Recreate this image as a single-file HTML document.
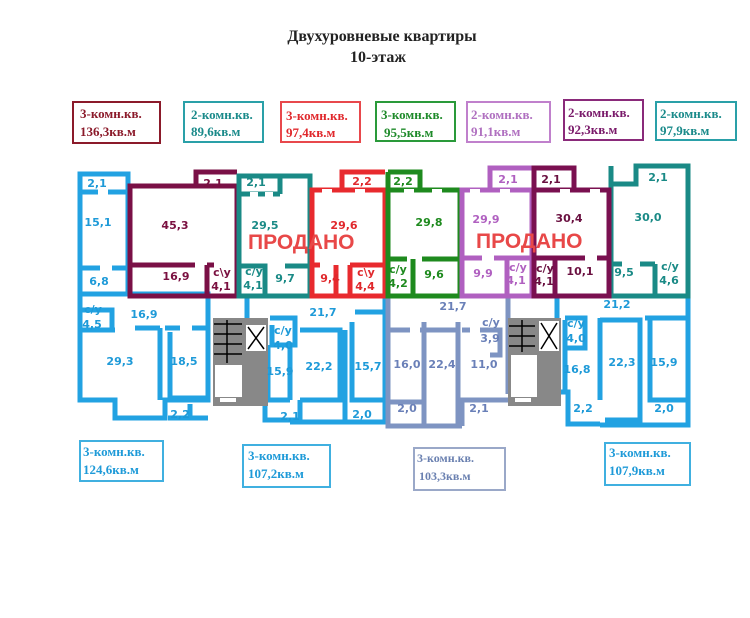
<!DOCTYPE html>
<html><head><meta charset="utf-8"><style>
body{margin:0;background:#fff;}
svg{display:block}
.t{font-family:"Liberation Serif","DejaVu Serif",serif;font-weight:bold}
.r{font-family:"DejaVu Sans","Liberation Sans",sans-serif;font-weight:bold;font-size:11px;text-anchor:middle}
</style></head><body>
<svg width="750" height="618" viewBox="0 0 750 618" xmlns="http://www.w3.org/2000/svg">
<rect width="750" height="618" fill="#fff"/>
<text class="t" x="382" y="41" font-size="16" text-anchor="middle" fill="#222">Двухуровневые квартиры</text>
<text class="t" x="378" y="62" font-size="16" text-anchor="middle" fill="#222">10-этаж</text>

<g fill="none" stroke-width="2">
<rect x="73" y="102" width="87" height="41" stroke="#8b1a2a"/>
<rect x="184" y="102" width="79" height="40" stroke="#2aa0a8"/>
<rect x="281" y="102" width="79" height="40" stroke="#e8484c"/>
<rect x="376" y="102" width="79" height="39" stroke="#2a9a3a"/>
<rect x="467" y="102" width="83" height="40" stroke="#c080cc"/>
<rect x="564" y="100" width="79" height="40" stroke="#8a2a7a"/>
<rect x="656" y="102" width="80" height="38" stroke="#2aa0a8"/>
</g>
<g class="t" font-size="13">
<text x="80" y="118" fill="#8b1a2a">3-комн.кв.</text><text x="80" y="136" fill="#8b1a2a">136,3кв.м</text>
<text x="191" y="119" fill="#1a8a8a">2-комн.кв.</text><text x="191" y="136" fill="#1a8a8a">89,6кв.м</text>
<text x="286" y="120" fill="#e0282c">3-комн.кв.</text><text x="286" y="137" fill="#e0282c">97,4кв.м</text>
<text x="381" y="119" fill="#1e8a2a">3-комн.кв.</text><text x="384" y="137" fill="#1e8a2a">95,5кв.м</text>
<text x="471" y="119" fill="#b070c0">2-комн.кв.</text><text x="471" y="136" fill="#b070c0">91,1кв.м</text>
<text x="568" y="117" fill="#7a1a6a">2-комн.кв.</text><text x="568" y="134" fill="#7a1a6a">92,3кв.м</text>
<text x="660" y="118" fill="#1a8a8a">2-комн.кв.</text><text x="660" y="135" fill="#1a8a8a">97,9кв.м</text>
</g>

<g fill="none" stroke-width="2">
<rect x="80" y="441" width="83" height="40" stroke="#40b0e0"/>
<rect x="243" y="445" width="87" height="42" stroke="#40b0e0"/>
<rect x="414" y="448" width="91" height="42" stroke="#9aa8c8"/>
<rect x="605" y="443" width="85" height="42" stroke="#40b0e0"/>
</g>
<g class="t" font-size="13">
<text x="83" y="456" fill="#1e9ad8">3-комн.кв.</text><text x="83" y="474" fill="#1e9ad8">124,6кв.м</text>
<text x="248" y="460" fill="#1e9ad8">3-комн.кв.</text><text x="248" y="478" fill="#1e9ad8">107,2кв.м</text>
<text x="417" y="462" fill="#6a80b0" font-size="12">3-комн.кв.</text><text x="419" y="480" fill="#6a80b0" font-size="12">103,3кв.м</text>
<text x="609" y="457" fill="#1e9ad8">3-комн.кв.</text><text x="609" y="475" fill="#1e9ad8">107,9кв.м</text>
</g>

<g fill="none" stroke-width="5">
<g stroke="#22a2e2">
<rect x="80" y="174" width="48" height="120"/>
<path d="M80 172 V400 H115 V418 H165 V400 H208 V294 H128"/>
<path d="M80 192 H98 M108 192 H128"/>
<path d="M80 268 H100 M112 268 H128"/>
<path d="M80 330 H115 M80 310 H112 V330 M135 328 H160 M160 328 V400 M165 328 H180 M192 328 H208 M170 332 V400"/>
<path d="M168 398 H208 M190 404 V420 M168 418 H208"/>
<path d="M247 296 H385 V422 H290 M247 296 V318"/>
<path d="M270 318 H295 V345 H272 V325 M290 345 V400 M265 400 H290 M265 400 V420 H300 V400 M300 400 H345 M300 330 H340 V400 M345 400 V422 M345 330 V400 M355 312 H385 M352 322 V400 H385"/>
<path d="M268 345 V400"/>
<path d="M557 296 H688 V425 H600 M557 296 V318"/>
<path d="M565 318 H585 V348 H565 V320 M565 348 V392 H568 M545 392 H568 V424 H600 M600 320 H640 V420 H605 M645 318 H688 M650 320 V400 H688 M600 318 V400"/>
</g>
<g stroke="#7e94c2">
<path d="M388 296 H508 V394 M388 296 V426 H462 M462 426 V400 H508"/>
<path d="M388 330 H410 M420 330 H458 M424 322 V426 M458 322 V426 M462 330 H470 M480 330 H500 V355 H490 M460 400 H505 M388 402 H424"/>
</g>
<rect x="213" y="318" width="55" height="88" fill="#888" stroke="none"/>
<rect x="215" y="365" width="27" height="32" fill="#fff" stroke="none"/>
<rect x="246" y="325" width="20" height="26" fill="#fff" stroke="none"/>
<rect x="220" y="398" width="16" height="4" fill="#fff" stroke="none"/>
<path d="M248 327 L264 349 M264 327 L248 349" stroke="#000" stroke-width="1.5"/>
<path d="M227 320 V363 M214 324 H242 M214 334 H242 M214 344 H242 M214 354 H242" stroke="#000" stroke-width="1.5"/>
<rect x="508" y="318" width="53" height="88" fill="#888" stroke="none"/>
<rect x="511" y="355" width="26" height="42" fill="#fff" stroke="none"/>
<rect x="539" y="321" width="20" height="30" fill="#fff" stroke="none"/>
<rect x="515" y="398" width="16" height="4" fill="#fff" stroke="none"/>
<path d="M541 323 L557 349 M557 323 L541 349" stroke="#000" stroke-width="1.5"/>
<path d="M522 320 V352 M509 326 H535 M509 336 H535 M509 346 H535" stroke="#000" stroke-width="1.5"/>

<g stroke="#7a1046">
<path d="M130 186 H237 V296 H130 Z M196 186 V172 H237"/>
<path d="M130 265 H195 M207 265 V296 M207 265 H214"/>
</g>
<g stroke="#1a8a86">
<path d="M239 176 H310 V296 H239 Z M239 176 V194 H280 M280 176 V194"/>
<path d="M239 266 H265 V296 M285 266 H310"/>
<path d="M611 166 V296 H688 V166 H636 V184 H611 Z"/>
<path d="M611 264 H622 M640 264 H655 M655 264 V296"/>
</g>
<g stroke="#e82a2e">
<path d="M312 190 H385 V296 H312 Z M342 190 V172 H385"/>
<path d="M312 265 H320 M336 265 V296 M350 265 H385 M350 265 V296"/>
</g>
<g stroke="#1e8a1e">
<path d="M388 172 V296 H460 V190 H388 M388 172 H420 V190"/>
<path d="M388 259 H407 M422 259 H460 M413 259 V296"/>
</g>
<g stroke="#b060c0">
<path d="M462 190 V296 H532 V190 Z M490 190 V168 H532"/>
<path d="M462 258 H482 M494 258 H532 M507 258 V296"/>
</g>
<g stroke="#7a1050">
<path d="M534 190 V296 H609 V190 Z M534 190 V168 H574 V190"/>
<path d="M534 258 H585 M597 258 H609 M555 258 V296"/>
</g>
</g>
<g fill="#fff">
<rect x="138" y="191" width="12" height="5"/><rect x="168" y="191" width="12" height="5"/><rect x="250" y="192" width="8" height="5"/><rect x="265" y="192" width="8" height="5"/><rect x="322" y="189" width="10" height="5"/><rect x="355" y="189" width="10" height="5"/><rect x="404" y="189" width="10" height="5"/><rect x="432" y="189" width="10" height="5"/><rect x="470" y="189" width="10" height="5"/><rect x="500" y="189" width="10" height="5"/><rect x="560" y="189" width="10" height="5"/><rect x="590" y="189" width="10" height="5"/><rect x="618" y="190" width="10" height="5"/><rect x="652" y="190" width="10" height="5"/>
</g>

<g class="r" fill="#1e9ad8">
<text x="97" y="187">2,1</text><text x="98" y="226">15,1</text><text x="99" y="285">6,8</text>
<text x="93" y="313">с/у</text><text x="92" y="328">4,5</text><text x="144" y="318">16,9</text>
<text x="120" y="365">29,3</text><text x="184" y="365">18,5</text><text x="180" y="418">2,2</text>
<text x="283" y="334">с/у</text><text x="283" y="349">4,0</text><text x="323" y="316">21,7</text>
<text x="280" y="375">15,9</text><text x="319" y="370">22,2</text><text x="368" y="370">15,7</text>
<text x="290" y="420">2,1</text><text x="362" y="418">2,0</text>
<text x="576" y="327">с/у</text><text x="576" y="342">4,0</text><text x="617" y="308">21,2</text>
<text x="577" y="373">16,8</text><text x="622" y="366">22,3</text><text x="664" y="366">15,9</text>
<text x="583" y="412">2,2</text><text x="664" y="412">2,0</text>
</g>
<g class="r" fill="#6a80b8">
<text x="453" y="310">21,7</text><text x="491" y="326">с/у</text><text x="490" y="342">3,9</text>
<text x="407" y="368">16,0</text><text x="442" y="368">22,4</text><text x="484" y="368">11,0</text>
<text x="407" y="412">2,0</text><text x="479" y="412">2,1</text>
</g>
<g class="r" fill="#7a1040"><text x="213" y="187">2,1</text><text x="175" y="229">45,3</text><text x="176" y="280">16,9</text><text x="222" y="276">с\у</text><text x="221" y="290">4,1</text></g>
<g class="r" fill="#1a8a86"><text x="256" y="186">2,1</text><text x="265" y="229">29,5</text><text x="254" y="275">с/у</text><text x="253" y="289">4,1</text><text x="285" y="282">9,7</text>
<text x="658" y="181">2,1</text><text x="648" y="221">30,0</text><text x="624" y="276">9,5</text><text x="670" y="270">с/у</text><text x="669" y="284">4,6</text></g>
<g class="r" fill="#e0282c"><text x="362" y="185">2,2</text><text x="344" y="229">29,6</text><text x="330" y="282">9,4</text><text x="366" y="276">с\у</text><text x="365" y="290">4,4</text></g>
<g class="r" fill="#1e8a1e"><text x="403" y="185">2,2</text><text x="429" y="226">29,8</text><text x="398" y="273">с/у</text><text x="398" y="287">4,2</text><text x="434" y="278">9,6</text></g>
<g class="r" fill="#b060c0"><text x="508" y="183">2,1</text><text x="486" y="223">29,9</text><text x="483" y="277">9,9</text><text x="518" y="271">с/у</text><text x="516" y="284">4,1</text></g>
<g class="r" fill="#6a1040"><text x="551" y="183">2,1</text><text x="569" y="222">30,4</text><text x="545" y="272">с/у</text><text x="544" y="285">4,1</text><text x="580" y="275">10,1</text></g>
<g font-family="'Liberation Sans',sans-serif" font-weight="bold" font-size="21" fill="#e84848">
<text x="248" y="249">ПРОДАНО</text><text x="476" y="248">ПРОДАНО</text>
</g>
</svg>
</body></html>
